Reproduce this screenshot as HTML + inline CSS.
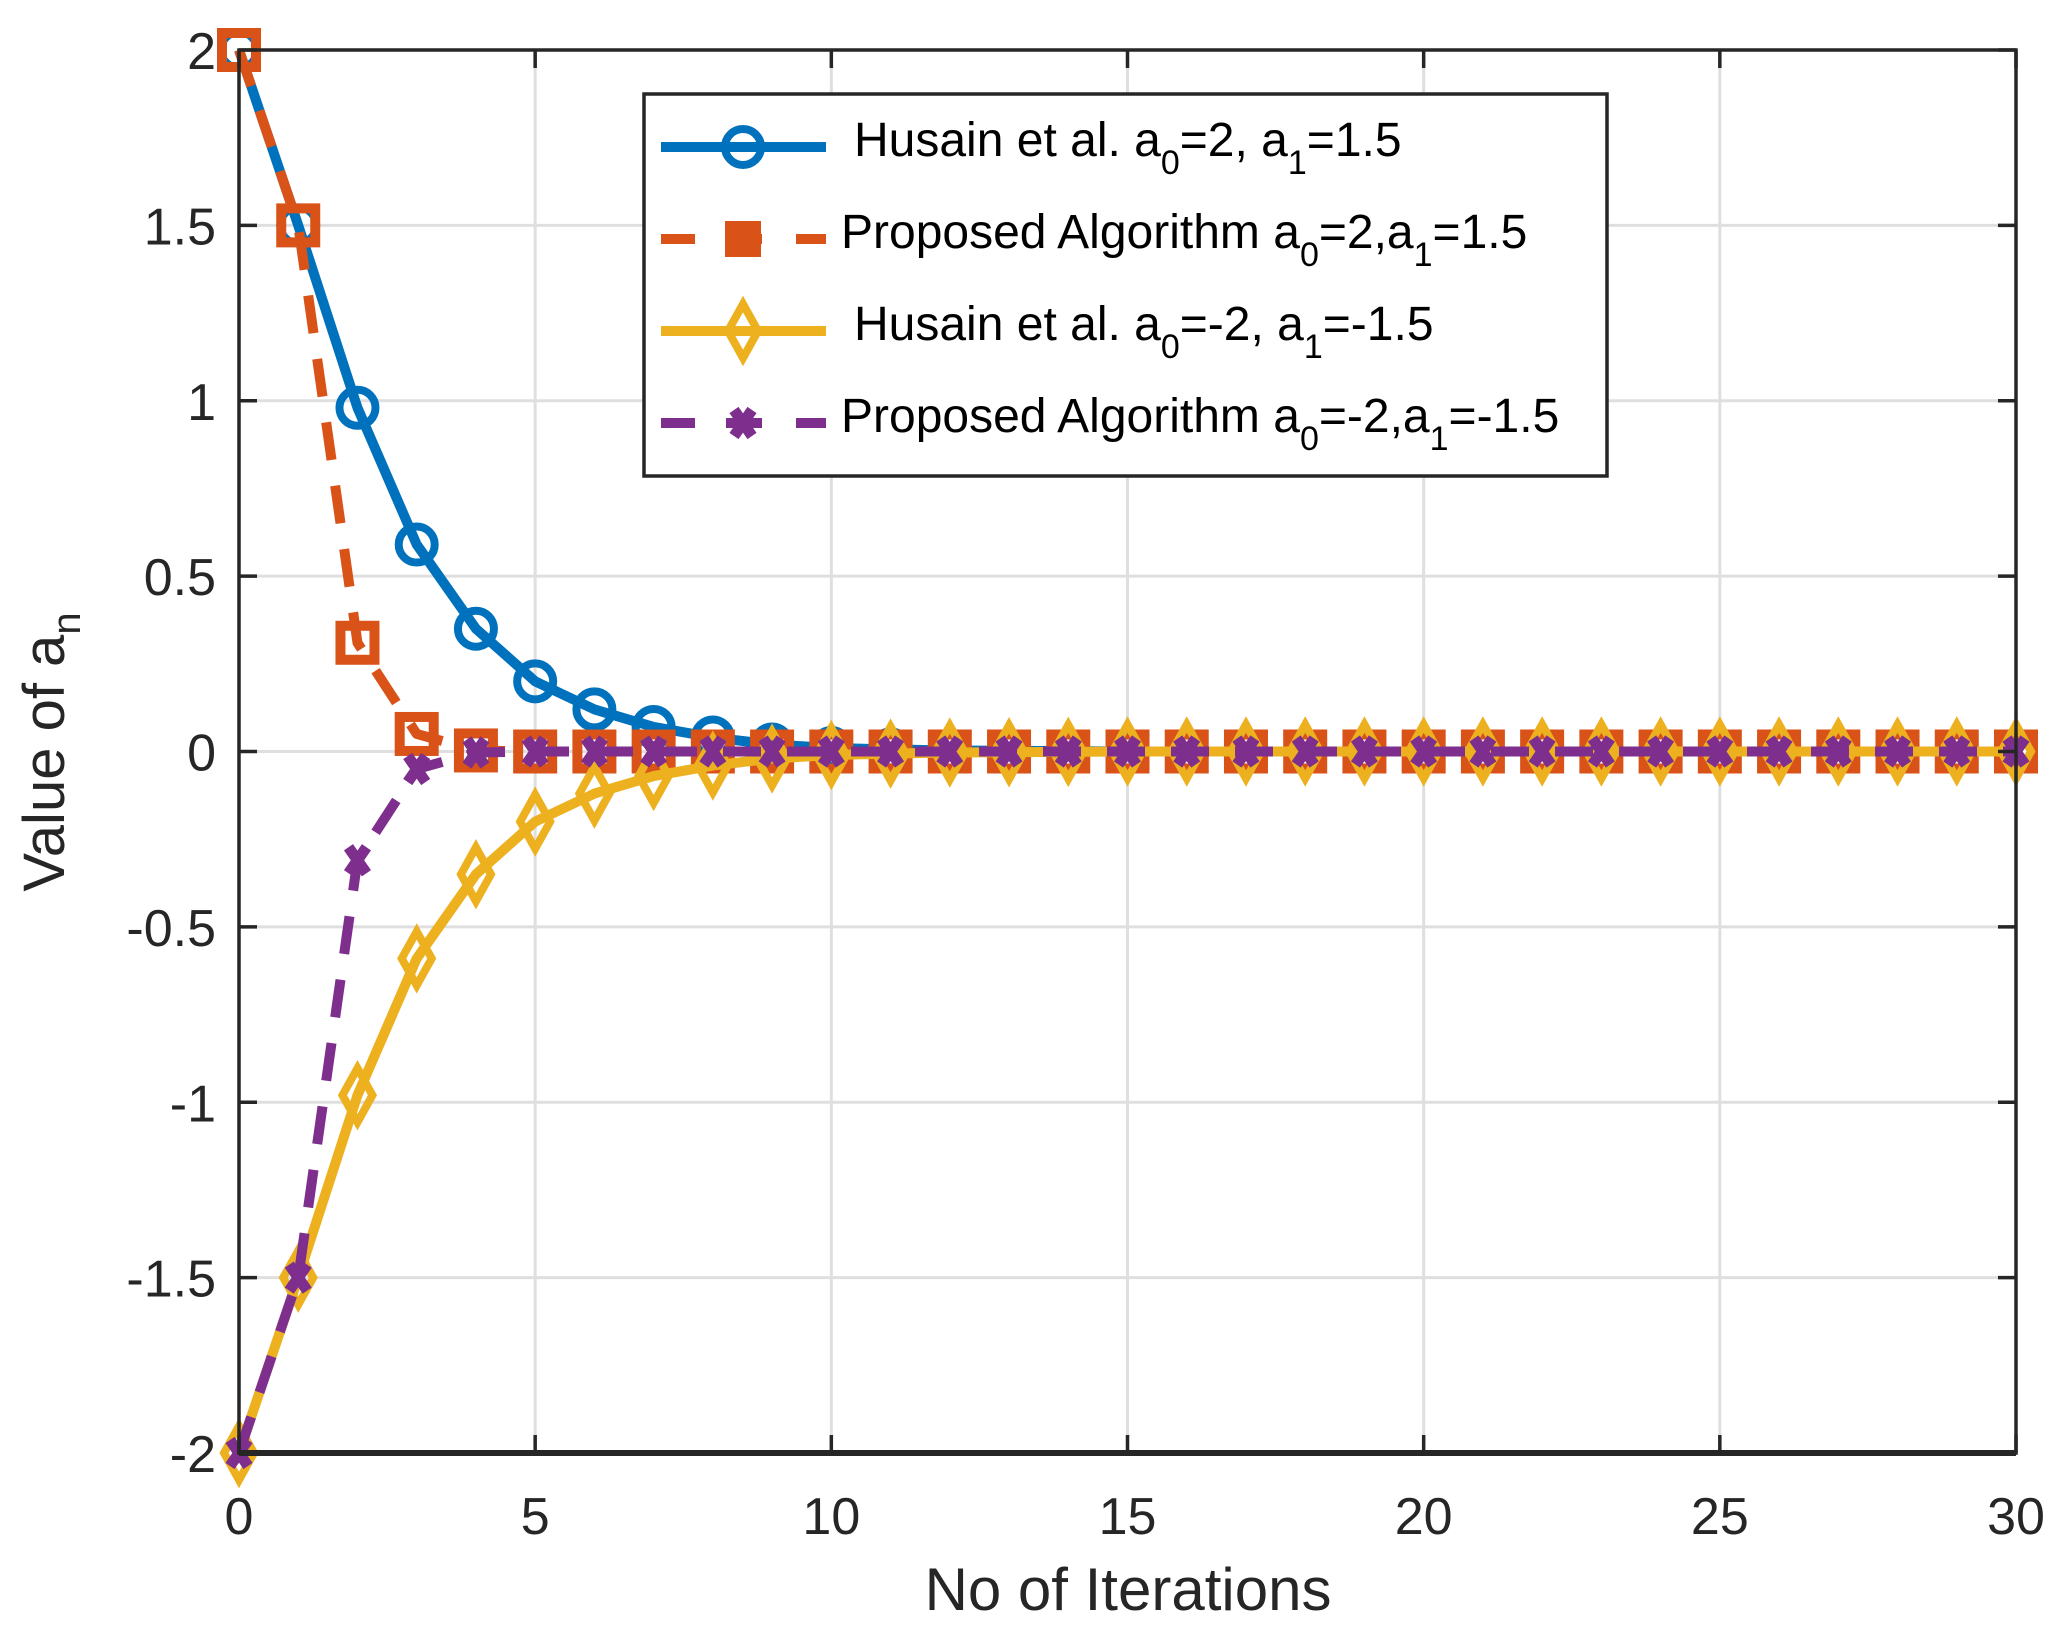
<!DOCTYPE html>
<html><head><meta charset="utf-8"><style>
html,body{margin:0;padding:0;background:#fff;}
svg{display:block;font-family:"Liberation Sans",Arial,sans-serif;}
</style></head><body>
<svg id="chart" width="2070" height="1640" viewBox="0 0 2070 1640" xmlns="http://www.w3.org/2000/svg">
<rect width="2070" height="1640" fill="#fff"/>
<g id="grid"></g>
<g id="series"></g>
<g id="axes"></g>
<g id="legend"></g>
</svg>
<script>
const iterations = [0,1,2,3,4,5,6,7,8,9,10,11,12,13,14,15,16,17,18,19,20,21,22,23,24,25,26,27,28,29,30];
const husainPos = [2,1.5,0.98,0.59,0.35,0.2,0.12,0.07,0.04,0.02,0.01,0.006,0.003,0.002,0.001,0,0,0,0,0,0,0,0,0,0,0,0,0,0,0,0];
const proposedPos = [2,1.5,0.31,0.05,0.003,0,0,0,0,0,0,0,0,0,0,0,0,0,0,0,0,0,0,0,0,0,0,0,0,0,0];
const husainNeg = [-2,-1.5,-0.98,-0.59,-0.35,-0.2,-0.12,-0.07,-0.04,-0.02,-0.01,-0.006,-0.003,-0.002,-0.001,0,0,0,0,0,0,0,0,0,0,0,0,0,0,0,0];
const proposedNeg = [-2,-1.5,-0.31,-0.05,-0.003,0,0,0,0,0,0,0,0,0,0,0,0,0,0,0,0,0,0,0,0,0,0,0,0,0,0];
const xTicks = [0,5,10,15,20,25,30];
const yTicks = [-2,-1.5,-1,-0.5,0,0.5,1,1.5,2];
const yTickLabels = ["-2","-1.5","-1","-0.5","0","0.5","1","1.5","2"];

const NS="http://www.w3.org/2000/svg";
const L=239,R=2016,T=50,B=1453;
const xs=v=>L+(v-0)/(30-0)*(R-L);
const ys=v=>B-(v+2)/4*(B-T);
function mk(tag,attrs,parent){const e=document.createElementNS(NS,tag);for(const k in attrs)e.setAttribute(k,attrs[k]);parent.appendChild(e);return e;}
const grid=document.getElementById('grid'),series=document.getElementById('series'),axes=document.getElementById('axes');

xTicks.forEach(t=>{
  const g=mk('line',{x1:xs(t),x2:xs(t),y1:T,y2:B,stroke:'#dfdfdf','stroke-width':3},grid);
  
  
});
yTicks.forEach(t=>{
  const g=mk('line',{x1:L,x2:R,y1:ys(t),y2:ys(t),stroke:'#dfdfdf','stroke-width':3},grid);
  
  
});

function marker(kind,x,y,color,parent){
  let m;
  if(kind==='circle'){m=mk('circle',{cx:x,cy:y,r:18,fill:'none',stroke:color,'stroke-width':8},parent);}
  else if(kind==='square'){m=mk('rect',{x:x-17,y:y-17,width:34,height:34,fill:'none',stroke:color,'stroke-width':10},parent);}
  else if(kind==='diamond'){m=mk('path',{d:`M${x} ${y-27}L${x+15} ${y}L${x} ${y+27}L${x-15} ${y}Z`,fill:'none',stroke:color,'stroke-width':8},parent);}
  else {m=mk('path',{d:`M${x-9} ${y-13}L${x+9} ${y+13}M${x+9} ${y-13}L${x-9} ${y+13}`,fill:'none',stroke:color,'stroke-width':11},parent);}
  return m;
}
const defs=[
 {data:husainPos,color:'#0072bd',dash:'',mk:'circle',name:'husain-positive'},
 {data:proposedPos,color:'#d95319',dash:'38 26',mk:'square',name:'proposed-positive'},
 {data:husainNeg,color:'#edb120',dash:'',mk:'diamond',name:'husain-negative'},
 {data:proposedNeg,color:'#7e2f8e',dash:'38 26',mk:'x',name:'proposed-negative'}
];
defs.forEach(s=>{
  const g=mk('g',{},series);
  
  
  const d=s.data.map((v,i)=>(i?'L':'M')+xs(iterations[i])+' '+ys(v)).join('');
  const p=mk('path',{d:d,fill:'none',stroke:s.color,'stroke-width':10,'stroke-dasharray':s.dash,'stroke-linejoin':'round'},g);
  
  
  s.data.forEach((v,i)=>{
    const m=marker(s.mk,xs(iterations[i]),ys(v),s.color,g);
    
    
  });
});

const box=mk('rect',{x:L,y:T,width:R-L,height:B-T,fill:'none',stroke:'#262626','stroke-width':3.5},axes);


const bl=mk('line',{x1:L,x2:R,y1:B,y2:B,stroke:'#262626','stroke-width':6},axes);


xTicks.forEach(t=>{
  const x=xs(t);
  mk('line',{x1:x,x2:x,y1:B,y2:B-18,stroke:'#262626','stroke-width':3.5},axes);
  mk('line',{x1:x,x2:x,y1:T,y2:T+18,stroke:'#262626','stroke-width':3.5},axes);
  const tx=mk('text',{x:x,y:1534,'text-anchor':'middle','font-size':52,fill:'#262626'},axes);
  tx.textContent=String(t);
  
  
});
yTicks.forEach((t,i)=>{
  const y=ys(t);
  mk('line',{x1:L,x2:L+18,y1:y,y2:y,stroke:'#262626','stroke-width':3.5},axes);
  mk('line',{x1:R,x2:R-18,y1:y,y2:y,stroke:'#262626','stroke-width':3.5},axes);
  const tx=mk('text',{x:216,y:y+19,'text-anchor':'end','font-size':52,fill:'#262626'},axes);
  tx.textContent=yTickLabels[i];
  
  
});
</script>
<svg style="position:absolute;left:0;top:0" width="2070" height="1640">
<text x="1128" y="1610" text-anchor="middle" font-size="60" fill="#262626" font-family="Liberation Sans, sans-serif">No of Iterations</text>
<text transform="translate(64,752) rotate(-90)" text-anchor="middle" font-size="58" fill="#262626" font-family="Liberation Sans, sans-serif">Value of a<tspan font-size="40" dy="16">n</tspan></text>
<g font-family="Liberation Sans, sans-serif" font-size="48" fill="#000">
<rect x="644" y="94" width="963" height="382" fill="#fff" stroke="#262626" stroke-width="3.5"/>
<g>
<line x1="661" x2="826" y1="147" y2="147" stroke="#0072bd" stroke-width="10"/>
<circle cx="743" cy="147" r="18" fill="none" stroke="#0072bd" stroke-width="8"/>
<text x="854" y="156">Husain et al. a<tspan font-size="34" dy="18">0</tspan><tspan dy="-18">=2, a</tspan><tspan font-size="34" dy="18">1</tspan><tspan dy="-18">=1.5</tspan></text>
</g>
<g>
<line x1="661" x2="826" y1="239" y2="239" stroke="#d95319" stroke-width="10" stroke-dasharray="34 31 36 34"/>
<rect x="725" y="221" width="36" height="36" fill="#d95319"/>
<text x="841" y="248">Proposed Algorithm a<tspan font-size="34" dy="18">0</tspan><tspan dy="-18">=2,a</tspan><tspan font-size="34" dy="18">1</tspan><tspan dy="-18">=1.5</tspan></text>
</g>
<g>
<line x1="661" x2="826" y1="331" y2="331" stroke="#edb120" stroke-width="10"/>
<path d="M743 304L758 331L743 358L728 331Z" fill="none" stroke="#edb120" stroke-width="8"/>
<text x="854" y="340">Husain et al. a<tspan font-size="34" dy="18">0</tspan><tspan dy="-18">=-2, a</tspan><tspan font-size="34" dy="18">1</tspan><tspan dy="-18">=-1.5</tspan></text>
</g>
<g>
<line x1="661" x2="826" y1="423" y2="423" stroke="#7e2f8e" stroke-width="10" stroke-dasharray="34 31 36 34"/>
<path d="M734 410L752 436M752 410L734 436" stroke="#7e2f8e" stroke-width="11"/>
<text x="841" y="432">Proposed Algorithm a<tspan font-size="34" dy="18">0</tspan><tspan dy="-18">=-2,a</tspan><tspan font-size="34" dy="18">1</tspan><tspan dy="-18">=-1.5</tspan></text>
</g>
</g>
</svg>
</body></html>
